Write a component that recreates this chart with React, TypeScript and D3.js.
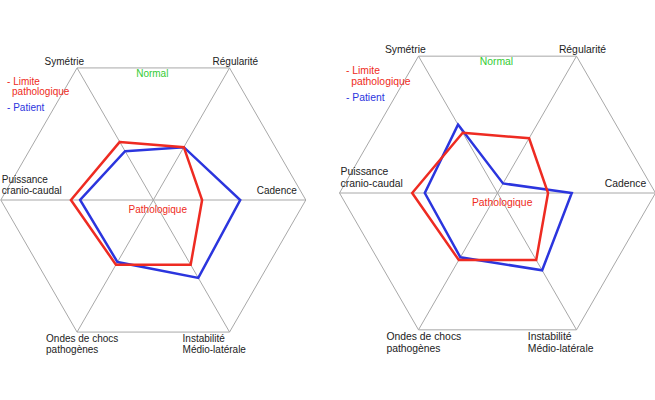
import React from 'react';
import * as d3 from 'd3';

const axes = [
  ['Symétrie'],
  ['Régularité'],
  ['Cadence'],
  ['Instabilité', 'Médio-latérale'],
  ['Ondes de chocs', 'pathogènes'],
  ['Puissance', 'cranio-caudal'],
];

// angle of each axis, clockwise from 12 o'clock (degrees)
const axisAngles = [-30, 30, 90, 150, 210, 270];

const limitValues = [0.44, 0.4, 0.32, 0.49, 0.49, 0.54];
const patientLeft = [0.37, 0.4, 0.57, 0.59, 0.47, 0.48];
const patientRight = [0.5, 0.07, 0.47, 0.565, 0.47, 0.46];

// label placement relative to the axis end, at radius 152.5
const labelOffsets = [
  { dx: 7, dy: -3, anchor: 'end' },
  { dx: -17, dy: -3, anchor: 'start' },
  { dx: -9, dy: -6, anchor: 'end' },
  { dx: -47, dy: 10, anchor: 'start' },
  { dx: -31, dy: 10, anchor: 'start' },
  { dx: 1, dy: -17, anchor: 'start' },
];

const RED = '#ee2b22';
const BLUE = '#2b35de';
const GREEN = '#33cc33';
const GRID = '#a8a8a8';
const FONT = '"Liberation Sans", Arial, sans-serif';

interface RadarProps {
  cx: number;
  cy: number;
  R: number;
  patient: number[];
}

const Radar: React.FC<RadarProps> = ({ cx, cy, R, patient }) => {
  const k = R / 152.5;
  const r = d3.scaleLinear().domain([0, 1]).range([0, R]);
  const ang = (i: number) => (axisAngles[i] * Math.PI) / 180;
  const pt = (i: number, v: number): [number, number] => [
    cx + r(v) * Math.sin(ang(i)),
    cy - r(v) * Math.cos(ang(i)),
  ];

  const radial = d3
    .lineRadial<number>()
    .angle((_, i) => ang(i))
    .radius((d) => r(d))
    .curve(d3.curveLinearClosed);

  const hexagon = radial(axes.map(() => 1)) ?? '';
  const fs = 10 * k;
  const sym = pt(0, 1);

  return (
    <g fontFamily={FONT} fontSize={fs}>
      <g transform={`translate(${cx},${cy})`}>
        <path d={hexagon} fill='none' stroke={GRID} strokeWidth={1} />
        {[0, 1, 2].map((i) => {
          const [x1, y1] = pt(i, 1);
          const [x2, y2] = pt(i + 3, 1);
          return <line key={i} x1={x1 - cx} y1={y1 - cy} x2={x2 - cx} y2={y2 - cy} stroke={GRID} strokeWidth={1} />;
        })}
        <path d={radial(patient) ?? ''} fill='none' stroke={BLUE} strokeWidth={2.5} strokeLinejoin='miter' />
        <path d={radial(limitValues) ?? ''} fill='none' stroke={RED} strokeWidth={2.5} strokeLinejoin='miter' />
      </g>
      {axes.map((lines, i) => {
        const [x, y] = pt(i, 1);
        const o = labelOffsets[i];
        return (
          <text key={i} x={x + o.dx * k} y={y + o.dy * k} textAnchor={o.anchor} fill='#222'>
            {lines.map((t, j) => (
              <tspan key={j} x={x + o.dx * k} dy={j === 0 ? 0 : 11 * k}>
                {t}
              </tspan>
            ))}
          </text>
        );
      })}
      <text x={cx - 1 * k} y={sym[1] + 9 * k} textAnchor='middle' fill={GREEN}>
        Normal
      </text>
      <text x={cx + 4.5 * k} y={cy + 13 * k} textAnchor='middle' fill={RED}>
        Pathologique
      </text>
      <text x={sym[0] - 70 * k} y={sym[1] + 17 * k} fill={RED}>
        - Limite
      </text>
      <text x={sym[0] - 65 * k} y={sym[1] + 27.5 * k} fill={RED}>
        pathologique
      </text>
      <text x={sym[0] - 70 * k} y={sym[1] + 43 * k} fill={BLUE}>
        - Patient
      </text>
    </g>
  );
};

export default function App() {
  return (
    <svg
      width={655}
      height={400}
      style={{ position: 'absolute', left: 0, top: 0, background: '#fff' }}
    >
      <rect width={655} height={400} fill='#fff' />
      <Radar cx={153.3} cy={200} R={152.5} patient={patientLeft} />
      <Radar cx={497.5} cy={193} R={158} patient={patientRight} />
    </svg>
  );
}
